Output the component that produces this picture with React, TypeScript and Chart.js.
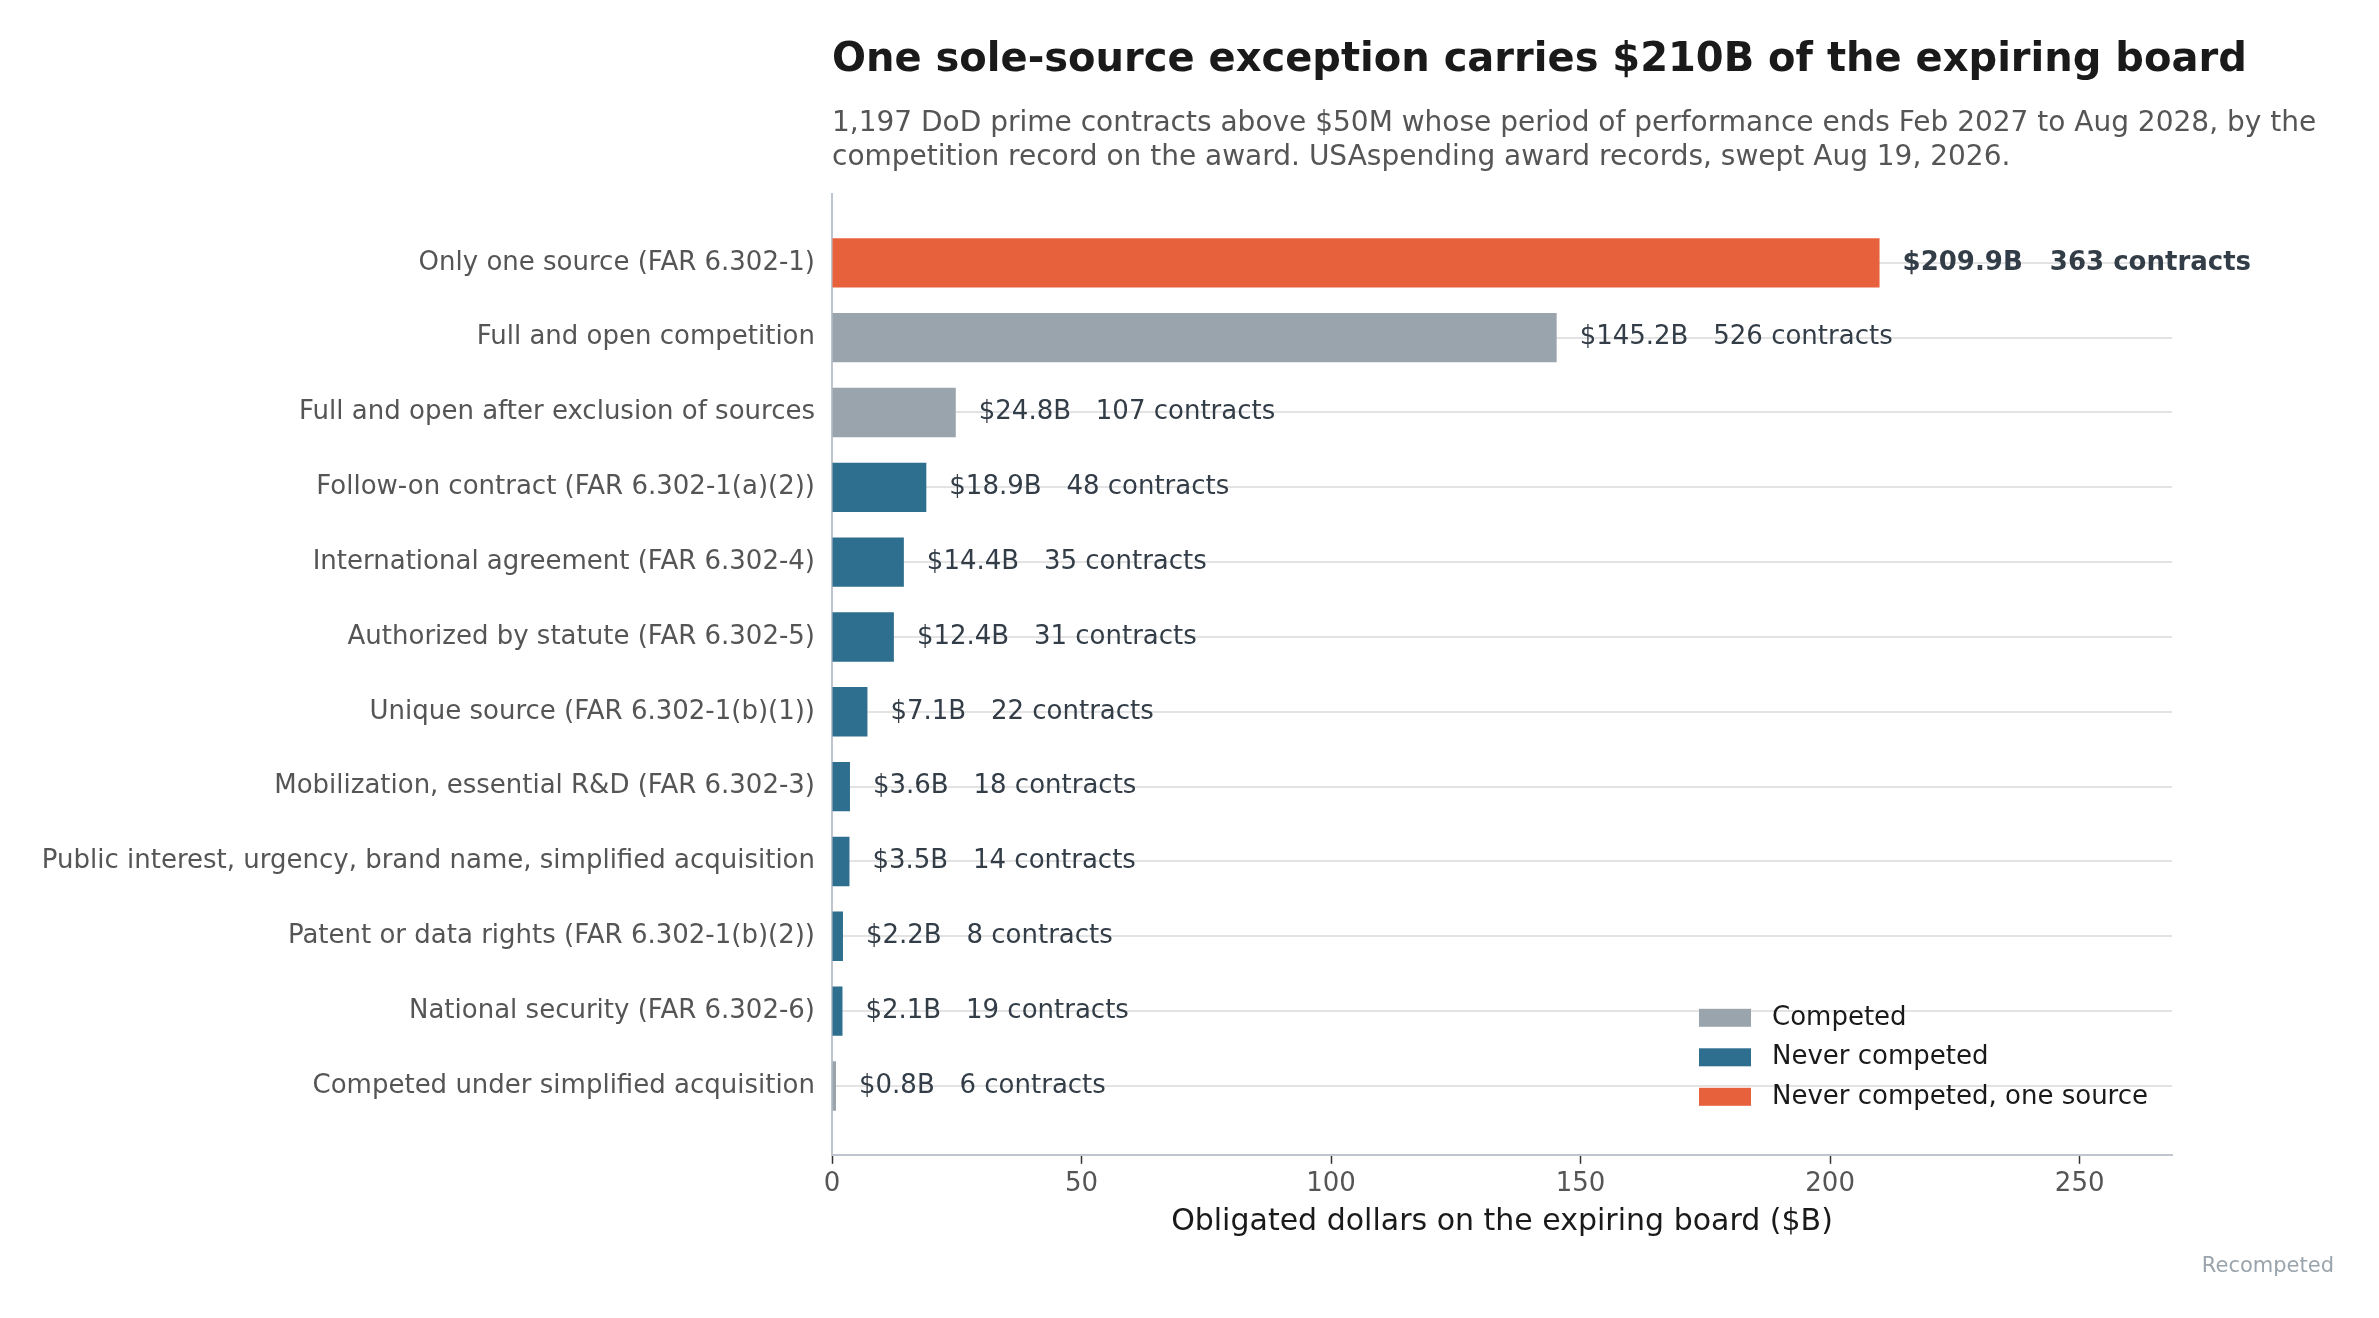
import { useEffect, useRef } from "react"
import { Chart, registerables } from "chart.js"

Chart.register(...registerables)

const categories = [
  "Only one source (FAR 6.302-1)",
  "Full and open competition",
  "Full and open after exclusion of sources",
  "Follow-on contract (FAR 6.302-1(a)(2))",
  "International agreement (FAR 6.302-4)",
  "Authorized by statute (FAR 6.302-5)",
  "Unique source (FAR 6.302-1(b)(1))",
  "Mobilization, essential R&D (FAR 6.302-3)",
  "Public interest, urgency, brand name, simplified acquisition",
  "Patent or data rights (FAR 6.302-1(b)(2))",
  "National security (FAR 6.302-6)",
  "Competed under simplified acquisition",
]

const obligatedB = [209.9, 145.2, 24.8, 18.9, 14.4, 12.4, 7.1, 3.6, 3.5, 2.2, 2.1, 0.8]
const contractCounts = [363, 526, 107, 48, 35, 31, 22, 18, 14, 8, 19, 6]
const groups = [
  "one",
  "competed",
  "competed",
  "never",
  "never",
  "never",
  "never",
  "never",
  "never",
  "never",
  "never",
  "competed",
]

const legendGroups = ["competed", "never", "one"]
const legendLabels = ["Competed", "Never competed", "Never competed, one source"]

const titleText = "One sole-source exception carries $210B of the expiring board"
const subtitleLines = [
  "1,197 DoD prime contracts above $50M whose period of performance ends Feb 2027 to Aug 2028, by the",
  "competition record on the award. USAspending award records, swept Aug 19, 2026.",
]

const groupColors: Record<string, string> = {
  competed: "#9aa4ad",
  never: "#2e6e8e",
  one: "#e8613d",
}

const FONT = "'DejaVu Sans', sans-serif"

// title block, value labels, legend and source note drawn on the canvas
const annotations = {
  id: "annotations",
  afterDatasetsDraw(chart: Chart) {
    const ctx = chart.ctx
    const area = chart.chartArea
    const meta = chart.getDatasetMeta(0)
    ctx.save()
    ctx.textBaseline = "middle"
    ctx.textAlign = "left"

    // title + subtitle (wider than the plot, so not the built-in title plugin)
    ctx.fillStyle = "#1a1a1a"
    ctx.font = `bold 40px ${FONT}`
    ctx.fillText(titleText, area.left, 61)
    ctx.fillStyle = "#555555"
    ctx.font = `28px ${FONT}`
    subtitleLines.forEach((line, i) => ctx.fillText(line, area.left, 124 + i * 33.5))

    ctx.fillStyle = "#333d47"
    meta.data.forEach((bar: any, i: number) => {
      ctx.font = `${i === 0 ? "bold " : ""}26px ${FONT}`
      ctx.fillText(`$${obligatedB[i].toFixed(1)}B   ${contractCounts[i]} contracts`, bar.x + 23, bar.y)
    })

    const left = area.right - 473
    legendLabels.forEach((label, i) => {
      const y = area.bottom - 137 + i * 39.5
      ctx.fillStyle = groupColors[legendGroups[i]]
      ctx.fillRect(left, y - 9, 52, 18)
      ctx.fillStyle = "#1a1a1a"
      ctx.font = `26px ${FONT}`
      ctx.fillText(label, left + 73, y)
    })

    ctx.fillStyle = "#9aa4ad"
    ctx.font = `21px ${FONT}`
    ctx.textAlign = "right"
    ctx.fillText("Recompeted", 2334, 1267)
    ctx.restore()
  },
}

export default function App() {
  const canvasRef = useRef<HTMLCanvasElement>(null)
  const chartInstance = useRef<Chart | null>(null)

  useEffect(() => {
    if (!canvasRef.current) return
    if (chartInstance.current) chartInstance.current.destroy()

    chartInstance.current = new Chart(canvasRef.current, {
      type: "bar",
      data: {
        datasets: [
          {
            data: obligatedB.map((v, i) => ({ x: v, y: i })),
            backgroundColor: groups.map((g) => groupColors[g]),
            borderWidth: 0,
            barPercentage: 0.66,
            categoryPercentage: 1,
          },
        ],
      },
      options: {
        indexAxis: "y",
        responsive: true,
        maintainAspectRatio: false,
        animation: false,
        layout: { padding: { left: 0, right: 207, top: 194, bottom: 78 } },
        plugins: {
          legend: { display: false },
          tooltip: { enabled: false },
          title: { display: false },
        },
        scales: {
          x: {
            type: "linear",
            min: 0,
            max: 268.5,
            border: { color: "#bfc5cc", width: 2 },
            grid: { drawOnChartArea: false, color: "#333333", tickLength: 9, tickWidth: 1.5 },
            ticks: {
              stepSize: 50,
              includeBounds: false,
              color: "#555555",
              padding: 4.5,
              font: { family: FONT, size: 26 },
            },
            title: {
              display: true,
              text: "Obligated dollars on the expiring board ($B)",
              color: "#1a1a1a",
              font: { family: FONT, size: 30 },
              padding: { top: 0, bottom: 0 },
            },
          },
          y: {
            type: "linear",
            reverse: true,
            offset: false,
            min: -0.92,
            max: 11.92,
            border: { color: "#bfc5cc", width: 2 },
            grid: { color: "#e3e3e3", lineWidth: 2, drawTicks: false, offset: false },
            afterBuildTicks: (scale: any) => {
              scale.ticks = categories.map((_, i) => ({ value: i }))
            },
            afterFit: (scale: any) => {
              scale.width = 832
            },
            ticks: {
              autoSkip: false,
              color: "#555555",
              padding: 17,
              font: { family: FONT, size: 26 },
              callback: (value: any) => categories[value as number] ?? "",
            },
          },
        },
      },
      plugins: [annotations],
    })

    return () => {
      if (chartInstance.current) {
        chartInstance.current.destroy()
        chartInstance.current = null
      }
    }
  }, [])

  return (
    <div style={{ position: "fixed", left: 0, top: 0, width: 2379, height: 1318, background: "#ffffff" }}>
      <canvas ref={canvasRef} />
    </div>
  )
}
